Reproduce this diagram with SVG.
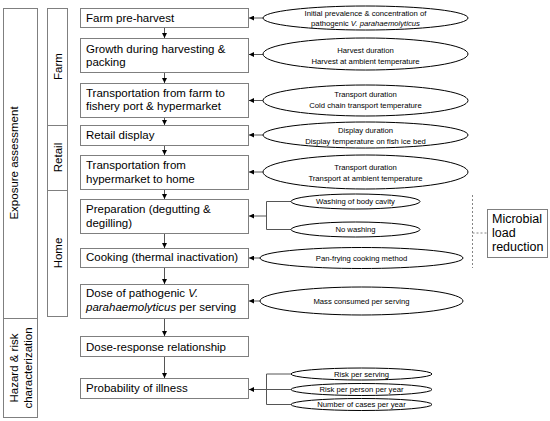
<svg xmlns="http://www.w3.org/2000/svg" width="550" height="421" viewBox="0 0 550 421">
<defs>
<style>
.box{fill:#fff;stroke:#7f7f7f;stroke-width:1}
.lane{fill:none;stroke:#7f7f7f;stroke-width:1}
.t{font-family:"Liberation Sans",Arial,sans-serif;font-size:11.5px;fill:#000}
.e{fill:#fff;stroke:#000;stroke-width:1}
.et{font-family:"Liberation Sans",Arial,sans-serif;font-size:7.7px;fill:#000;text-anchor:middle}
.c{fill:none;stroke:#555;stroke-width:1}
.d{fill:none;stroke:#666;stroke-width:0.8;stroke-dasharray:2,2}
</style>
<marker id="ah" viewBox="0 0 6 6" refX="6" refY="3" markerWidth="5" markerHeight="5" orient="auto" markerUnits="userSpaceOnUse">
<path d="M0,0 L6,3 L0,6 Z" fill="#000"/>
</marker>
</defs>
<rect width="550" height="421" fill="#fff"/>

<g id="lanes">
<rect class="lane" x="3.5" y="8.5" width="34" height="310"/>
<rect class="lane" x="3.5" y="318.5" width="34" height="99"/>
<rect class="lane" x="47.5" y="8.5" width="20" height="117"/>
<rect class="lane" x="47.5" y="125.5" width="20" height="65"/>
<rect class="lane" x="47.5" y="190.5" width="20" height="126"/>
<text class="t" transform="translate(17.5,163) rotate(-90)" text-anchor="middle">Exposure assessment</text>
<text class="t" transform="translate(18.3,368) rotate(-90)" text-anchor="middle">Hazard &amp; risk</text>
<text class="t" transform="translate(31.7,368) rotate(-90)" text-anchor="middle">characterization</text>
<text class="t" transform="translate(62,66.5) rotate(-90)" text-anchor="middle">Farm</text>
<text class="t" transform="translate(62,157.5) rotate(-90)" text-anchor="middle">Retail</text>
<text class="t" transform="translate(62,253) rotate(-90)" text-anchor="middle">Home</text>
</g>

<g id="connectors">
<line class="c" x1="164.5" y1="27" x2="164.5" y2="38" marker-end="url(#ah)"/>
<line class="c" x1="164.5" y1="72" x2="164.5" y2="83" marker-end="url(#ah)"/>
<line class="c" x1="164.5" y1="117" x2="164.5" y2="125" marker-end="url(#ah)"/>
<line class="c" x1="164.5" y1="145" x2="164.5" y2="155" marker-end="url(#ah)"/>
<line class="c" x1="164.5" y1="189" x2="164.5" y2="199" marker-end="url(#ah)"/>
<line class="c" x1="164.5" y1="233" x2="164.5" y2="248" marker-end="url(#ah)"/>
<line class="c" x1="164.5" y1="268" x2="164.5" y2="284" marker-end="url(#ah)"/>
<line class="c" x1="164.5" y1="318" x2="164.5" y2="336" marker-end="url(#ah)"/>
<line class="c" x1="164.5" y1="356" x2="164.5" y2="378" marker-end="url(#ah)"/>

<line class="c" x1="263" y1="18" x2="249" y2="18" marker-end="url(#ah)"/>
<line class="c" x1="263" y1="54.5" x2="249" y2="54.5" marker-end="url(#ah)"/>
<line class="c" x1="263" y1="100.5" x2="249" y2="100.5" marker-end="url(#ah)"/>
<line class="c" x1="263" y1="135" x2="249" y2="135" marker-end="url(#ah)"/>
<line class="c" x1="263" y1="172" x2="249" y2="172" marker-end="url(#ah)"/>
<path class="c" d="M291,201.5 H266.5 V229.5 H291"/>
<line class="c" x1="266.5" y1="216" x2="249" y2="216" marker-end="url(#ah)"/>
<line class="c" x1="260" y1="258" x2="249" y2="258" marker-end="url(#ah)"/>
<line class="c" x1="260" y1="301" x2="249" y2="301" marker-end="url(#ah)"/>
<path class="c" d="M291,374 H266.5 V404.5 H291"/>
<line class="c" x1="291" y1="389.5" x2="249" y2="389.5" marker-end="url(#ah)"/>

<line class="d" x1="472.5" y1="195" x2="472.5" y2="268"/>
<line class="d" x1="472.5" y1="233" x2="487" y2="233"/>
</g>

<g id="n1"><rect class="box" x="80.5" y="8.5" width="168" height="19"/><text class="t" x="86" y="21.5">Farm pre-harvest</text></g>
<g id="n2"><rect class="box" x="80.5" y="38.5" width="168" height="34"/><text class="t" x="86" y="52.7">Growth during harvesting &amp;</text><text class="t" x="86" y="66.3">packing</text></g>
<g id="n3"><rect class="box" x="80.5" y="83.5" width="168" height="34"/><text class="t" x="86" y="96.5">Transportation from farm to</text><text class="t" x="86" y="110.3">fishery port &amp; hypermarket</text></g>
<g id="n4"><rect class="box" x="80.5" y="125.5" width="168" height="20"/><text class="t" x="86" y="139.3">Retail display</text></g>
<g id="n5"><rect class="box" x="80.5" y="155.5" width="168" height="34"/><text class="t" x="86" y="169.3">Transportation from</text><text class="t" x="86" y="183.3">hypermarket to home</text></g>
<g id="n6"><rect class="box" x="80.5" y="199.5" width="168" height="34"/><text class="t" x="86" y="213.3">Preparation (degutting &amp;</text><text class="t" x="86" y="227.3">degilling)</text></g>
<g id="n7"><rect class="box" x="80.5" y="248.5" width="168" height="19"/><text class="t" x="86" y="261">Cooking (thermal inactivation)</text></g>
<g id="n8"><rect class="box" x="80.5" y="284.5" width="168" height="34"/><text class="t" x="86" y="296.7">Dose of pathogenic <tspan font-style="italic">V.</tspan></text><text class="t" x="86" y="310.7"><tspan font-style="italic">parahaemolyticus</tspan> per serving</text></g>
<g id="n9"><rect class="box" x="80.5" y="336.5" width="168" height="20"/><text class="t" x="86" y="350.7">Dose-response relationship</text></g>
<g id="n10"><rect class="box" x="80.5" y="378.5" width="168" height="20"/><text class="t" x="86" y="392">Probability of illness</text></g>

<g id="e1"><ellipse class="e" cx="365.5" cy="18" rx="102.5" ry="12"/><text class="et" x="365.5" y="16">Initial prevalence &amp; concentration of</text><text class="et" x="365.5" y="25.5">pathogenic <tspan font-style="italic">V. parahaemolyticus</tspan></text></g>
<g id="e2"><ellipse class="e" cx="365.5" cy="54" rx="102.5" ry="16"/><text class="et" x="365.5" y="53">Harvest duration</text><text class="et" x="365.5" y="63.5">Harvest at ambient temperature</text></g>
<g id="e3"><ellipse class="e" cx="365.5" cy="100.5" rx="102.5" ry="15.5"/><text class="et" x="365.5" y="97">Transport duration</text><text class="et" x="365.5" y="107.5">Cold chain transport temperature</text></g>
<g id="e4"><ellipse class="e" cx="365.5" cy="135" rx="102.5" ry="13"/><text class="et" x="365.5" y="133">Display duration</text><text class="et" x="365.5" y="143.5">Display temperature on fish ice bed</text></g>
<g id="e5"><ellipse class="e" cx="365.5" cy="172" rx="102.5" ry="17"/><text class="et" x="365.5" y="170">Transport duration</text><text class="et" x="365.5" y="180.5">Transport at ambient temperature</text></g>
<g id="e6"><ellipse class="e" cx="355.5" cy="201.5" rx="64.5" ry="7.5"/><text class="et" x="355.5" y="204">Washing of body cavity</text></g>
<g id="e7"><ellipse class="e" cx="355.5" cy="229.5" rx="64.5" ry="7.5"/><text class="et" x="355.5" y="232">No washing</text></g>
<g id="e8"><ellipse class="e" cx="361.5" cy="258" rx="101.5" ry="10.5"/><text class="et" x="361.5" y="260.5">Pan-frying cooking method</text></g>
<g id="e9"><ellipse class="e" cx="361.5" cy="301" rx="101.5" ry="14"/><text class="et" x="361.5" y="303.5">Mass consumed per serving</text></g>
<g id="e10"><ellipse class="e" cx="361.5" cy="374" rx="70.5" ry="6"/><text class="et" x="361.5" y="376.7">Risk per serving</text></g>
<g id="e11"><ellipse class="e" cx="361.5" cy="389.5" rx="70.5" ry="6"/><text class="et" x="361.5" y="392.2">Risk per person per year</text></g>
<g id="e12"><ellipse class="e" cx="361.5" cy="404.5" rx="70.5" ry="6"/><text class="et" x="361.5" y="407.2">Number of cases per year</text></g>

<g id="mlr"><rect class="box" x="487.5" y="209.5" width="60" height="48"/>
<text class="t" style="font-size:12.5px" x="492" y="223">Microbial</text>
<text class="t" style="font-size:12.5px" x="492" y="237">load</text>
<text class="t" style="font-size:12.5px" x="492" y="251">reduction</text></g>
</svg>
